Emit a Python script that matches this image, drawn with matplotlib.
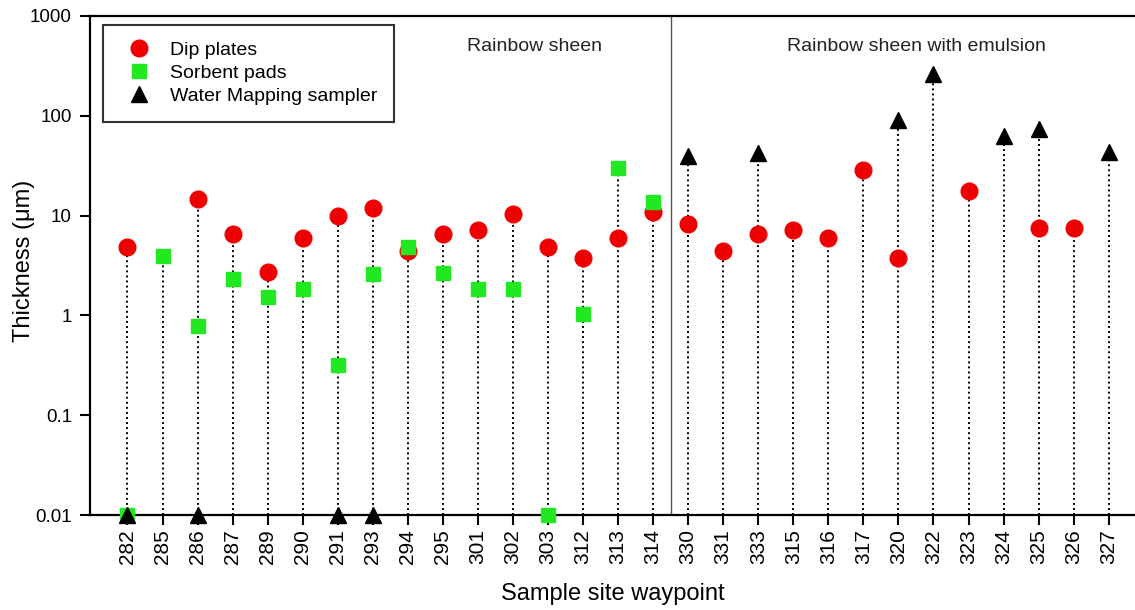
import numpy as np
import matplotlib
matplotlib.use("Agg")
import matplotlib.pyplot as plt

plt.rcParams["font.family"] = ["Liberation Sans", "DejaVu Sans"]

waypoints = ["282", "285", "286", "287", "289", "290", "291", "293", "294", "295",
             "301", "302", "303", "312", "313", "314", "330", "331", "333", "315",
             "316", "317", "320", "322", "323", "324", "325", "326", "327"]

# nan = no sample for that method
dip_plates = [4.9, np.nan, 14.7, 6.5, 2.7, 6.0, 9.8, 11.9, 4.4, 6.5,
              7.2, 10.4, 4.9, 3.8, 6.0, 10.8, 8.2, 4.4, 6.5, 7.1,
              6.0, 28.8, 3.8, np.nan, 17.8, np.nan, 7.5, 7.5, np.nan]
sorbent_pads = [0.01, 3.98, 0.78, 2.29, 1.54, 1.85, 0.32, 2.57, 4.86, 2.68,
                1.82, 1.82, 0.01, 1.04, 30.0, 13.7, np.nan, np.nan, np.nan, np.nan,
                np.nan, np.nan, np.nan, np.nan, np.nan, np.nan, np.nan, np.nan, np.nan]
water_mapping = [0.01, np.nan, 0.01, np.nan, np.nan, np.nan, 0.01, 0.01, np.nan, np.nan,
                 np.nan, np.nan, np.nan, np.nan, np.nan, np.nan, 40.0, np.nan, 42.4, np.nan,
                 np.nan, np.nan, 91.0, 261.0, np.nan, 63.0, 74.0, np.nan, 43.0]

x = np.arange(len(waypoints))
tops = np.nanmax(np.vstack([dip_plates, sorbent_pads, water_mapping]), axis=0)

fig = plt.figure(figsize=(11.35, 6.1), dpi=100)
ax = fig.add_axes([90 / 1135, 95 / 610, 1045 / 1135, 499 / 610])

ax.vlines(x, 0.01, tops, colors="black", linestyles=(0, (1, 1.6)), linewidth=1.4, zorder=1)
ax.axvline(15.5, color="#555555", linewidth=1.0, zorder=1)

ax.plot(x, dip_plates, "o", color="#ee0000", markersize=12, linestyle="none",
        label="Dip plates", zorder=3, clip_on=False)
ax.plot(x, sorbent_pads, "s", color="#22e822", markersize=10.5, linestyle="none",
        label="Sorbent pads", zorder=4, clip_on=False)
ax.plot(x, water_mapping, "^", color="black", markersize=11, linestyle="none",
        label="Water Mapping sampler", zorder=5, clip_on=False)

ax.set_yscale("log")
ax.set_ylim(0.01, 1000)
ax.set_xlim(-1.07, 28.75)
ax.set_yticks([0.01, 0.1, 1, 10, 100, 1000])
ax.set_yticklabels(["0.01", "0.1", "1", "10", "100", "1000"])
ax.yaxis.set_minor_locator(matplotlib.ticker.NullLocator())
ax.set_xticks(x)
ax.set_xticklabels(waypoints, rotation=90)
ax.tick_params(axis="both", direction="out", length=7, width=1.5)
ax.tick_params(axis="y", labelsize=13.5, pad=6)
ax.tick_params(axis="x", labelsize=15, pad=3)

for side in ["left", "bottom", "top"]:
    ax.spines[side].set_linewidth(1.6)
ax.spines["right"].set_visible(False)

ax.set_ylabel("Thickness (\u03bcm)", fontsize=17)
ax.yaxis.set_label_coords(-0.053, 0.51)
ax.set_xlabel("Sample site waypoint", fontsize=17, labelpad=14)

ax.text(11.6, 500, "Rainbow sheen", fontsize=14, ha="center", va="center", color="#222222")
ax.text(22.5, 500, "Rainbow sheen with emulsion", fontsize=14, ha="center", va="center",
        color="#222222")

leg = ax.legend(loc="upper left", bbox_to_anchor=(13 / 1045, 1 - 9 / 499), fontsize=14,
                frameon=True, fancybox=False, edgecolor="black", borderpad=0.85,
                labelspacing=0.28, handletextpad=0.6, borderaxespad=0)
leg.get_frame().set_linewidth(1.5)

fig.savefig("out.png", dpi=100)
